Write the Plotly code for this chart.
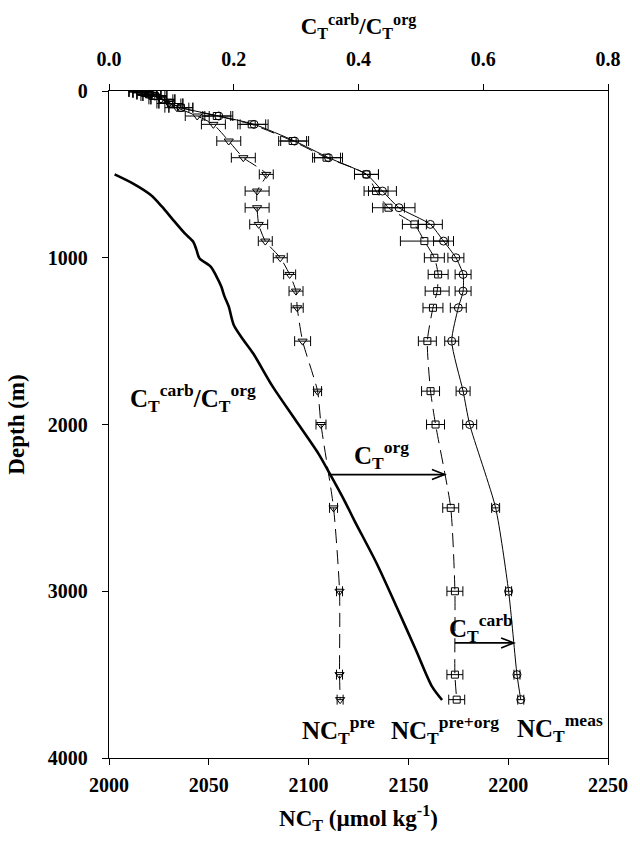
import numpy as np
import plotly.graph_objects as go

# ---------------- data ----------------
depth = [5, 10, 20, 30, 50, 75, 100, 150, 200, 300, 400, 500, 600, 700, 800, 900,
         1000, 1100, 1200, 1300, 1500, 1800, 2000, 2500, 3000, 3500, 3650]

nct_meas = [2016, 2018, 2020, 2023, 2027, 2031, 2036, 2055, 2072.7, 2093, 2110, 2129,
            2137, 2145.3, 2161, 2167.6, 2173.8, 2177.4, 2177.4, 2175, 2171.7, 2177.4,
            2180.7, 2193.7, 2200.2, 2204.4, 2206.3]
err_meas = [6, 6, 6, 6, 6, 6, 6, 7, 7, 7, 7, 6, 7, 8, 6, 5, 4, 4, 4, 4, 3.5, 3.5, 3.5,
            2, 1.5, 1.5, 1.5]

nct_preorg = [2016, 2018, 2020, 2023, 2027, 2031, 2036, 2054, 2071.5, 2092, 2109, 2129,
              2133.8, 2140, 2153, 2158, 2163, 2164.9, 2164.4, 2162.3, 2159.5, 2161.1,
              2163.6, 2171.2, 2173.3, 2173.3, 2174.2]
err_preorg = [6, 6, 6, 6, 6, 6, 6, 7, 7, 7, 7, 6, 6, 8, 6, 12, 5, 5, 6, 5, 4.5, 4.5,
              4.5, 4, 4, 4, 4]

nct_pre = [2016, 2018, 2020, 2022, 2026, 2030, 2034, 2044.2, 2052.3, 2060, 2067.3,
           2078.8, 2074.2, 2074.2, 2075, 2078.3, 2085.8, 2090.5, 2093.7, 2094.3, 2097,
           2104.5, 2106.2, 2112.5, 2115.5, 2115.5, 2115.8]
err_pre = [6, 6, 6, 6, 6, 6, 6, 6, 6, 6, 6, 3.5, 6, 6, 4.5, 3.5, 3.5, 3, 3.5, 3, 4,
           2, 2.5, 2, 1.5, 1.5, 1.5]

ratio_depth = [500, 554, 624, 694, 774, 854, 904, 950, 1003, 1053, 1110, 1173, 1230,
               1293, 1403, 1493, 1573, 1773, 1973, 2173, 2293, 2453, 2573, 2832, 3093,
               3352, 3572, 3652]
ratio = [0.009, 0.038, 0.067, 0.085, 0.103, 0.1215, 0.135, 0.14, 0.145, 0.163, 0.172,
         0.18, 0.185, 0.192, 0.2, 0.2155, 0.231, 0.2625, 0.299, 0.3355, 0.3537, 0.377,
         0.393, 0.429, 0.461, 0.492, 0.518, 0.534]

org_arrow_depth = 2300
carb_arrow_depth = 3310

x_ticks = [2000, 2050, 2100, 2150, 2200, 2250]
x2_ticks = [0.0, 0.2, 0.4, 0.6, 0.8]
y_ticks = [0, 1000, 2000, 3000, 4000]

# ---------------- style ----------------
FONT = "Liberation Serif, Times New Roman, serif"
BLACK = "black"
L, R, T, B = 109, 20, 91, 85
W, H = 640, 843
px_x = (W - L - R) / 250.0
px_y = (H - T - B) / 4000.0

fig = go.Figure()

def ebar(arr):
    return dict(type="data", array=arr, visible=True, color=BLACK, thickness=1, width=5)

fig.add_trace(go.Scatter(
    x=nct_pre, y=depth, mode="lines+markers", name="NCT pre",
    line=dict(color=BLACK, width=1, dash="14px,7px", shape="spline", smoothing=0.6),
    marker=dict(symbol="triangle-down-open", size=8, color=BLACK, line=dict(width=1)),
    error_x=ebar(err_pre)))

fig.add_trace(go.Scatter(
    x=nct_preorg, y=depth, mode="lines+markers", name="NCT pre+org",
    line=dict(color=BLACK, width=1, dash="14px,7px", shape="spline", smoothing=0.6),
    marker=dict(symbol="square-open", size=7, color=BLACK, line=dict(width=1)),
    error_x=ebar(err_preorg)))

fig.add_trace(go.Scatter(
    x=nct_meas, y=depth, mode="lines+markers", name="NCT meas",
    line=dict(color=BLACK, width=1, shape="spline", smoothing=0.6),
    marker=dict(symbol="circle-open", size=8, color=BLACK, line=dict(width=1)),
    error_x=ebar(err_meas)))

fig.add_trace(go.Scatter(
    x=ratio, y=ratio_depth, xaxis="x2", mode="lines", name="ratio",
    line=dict(color=BLACK, width=2.6, shape="spline", smoothing=0.8)))

# arrows derived from the series
def add_arrow(d, xs, xe):
    hx = 13 / px_x
    hy = 5 / px_y
    fig.add_shape(type="line", xref="x", yref="y", x0=xs, x1=xe, y0=d, y1=d,
                  line=dict(color=BLACK, width=1.8))
    fig.add_shape(type="path", xref="x", yref="y",
                  path=f"M {xe - hx},{d - hy} L {xe},{d} L {xe - hx},{d + hy}",
                  line=dict(color=BLACK, width=1.6))

add_arrow(org_arrow_depth, float(np.interp(org_arrow_depth, depth, nct_pre)),
          float(np.interp(org_arrow_depth, depth, nct_preorg)))
add_arrow(carb_arrow_depth, float(np.interp(carb_arrow_depth, depth, nct_preorg)),
          float(np.interp(carb_arrow_depth, depth, nct_meas)))

lab_font = dict(family=FONT, size=25, color=BLACK, weight="bold")
labels = [
    ("C<sub>T</sub><sup>carb</sup>/C<sub>T</sub><sup>org</sup>", 2042, 1840),
    ("C<sub>T</sub><sup>org</sup>", 2136.3, 2183),
    ("C<sub>T</sub><sup>carb</sup>", 2186.4, 3220),
    ("NC<sub>T</sub><sup>pre</sup>", 2115, 3830),
    ("NC<sub>T</sub><sup>pre+org</sup>", 2168.3, 3830),
    ("NC<sub>T</sub><sup>meas</sup>", 2226, 3820),
]
for txt, x, y in labels:
    fig.add_annotation(text=txt, x=x, y=y, xref="x", yref="y", showarrow=False,
                       font=lab_font, xanchor="center", yanchor="middle")

tick_font = dict(family=FONT, size=20, color=BLACK, weight="bold")
title_font = dict(family=FONT, size=23, color=BLACK, weight="bold")

fig.update_layout(
    width=W, height=H,
    margin=dict(l=L, r=R, t=T, b=B),
    paper_bgcolor="white", plot_bgcolor="white",
    showlegend=False,
    xaxis=dict(range=[2000, 2250], tickvals=x_ticks, ticks="outside", ticklen=6,
               tickwidth=1.2, tickcolor=BLACK, showline=True, linecolor=BLACK,
               linewidth=1.3, showgrid=False, zeroline=False, tickfont=tick_font,
               ticklabelstandoff=3,
               title=dict(text="NC<sub>T</sub> (µmol kg<sup>-1</sup>)", font=title_font,
                          standoff=14)),
    xaxis2=dict(range=[0, 0.8], tickvals=x2_ticks, tickformat=".1f", overlaying="x",
                side="top", ticks="outside", ticklen=6, tickwidth=1.2, tickcolor=BLACK,
                showline=True, linecolor=BLACK, linewidth=1.3, showgrid=False,
                zeroline=False, tickfont=tick_font, ticklabelstandoff=10,
                title=dict(text="C<sub>T</sub><sup>carb</sup>/C<sub>T</sub><sup>org</sup>",
                           font=title_font, standoff=6)),
    yaxis=dict(range=[4000, 0], tickvals=y_ticks, ticks="outside", ticklen=6,
               tickwidth=1.2, tickcolor=BLACK, showline=True, linecolor=BLACK,
               linewidth=1.3, mirror=True, showgrid=False, zeroline=False,
               tickfont=tick_font, ticklabelstandoff=10,
               title=dict(text="Depth (m)", font=title_font, standoff=16)),
)

fig.write_html("out.html", config={"displayModeBar": False},
               post_script="document.body.style.margin='0';document.body.style.overflow='hidden';")
